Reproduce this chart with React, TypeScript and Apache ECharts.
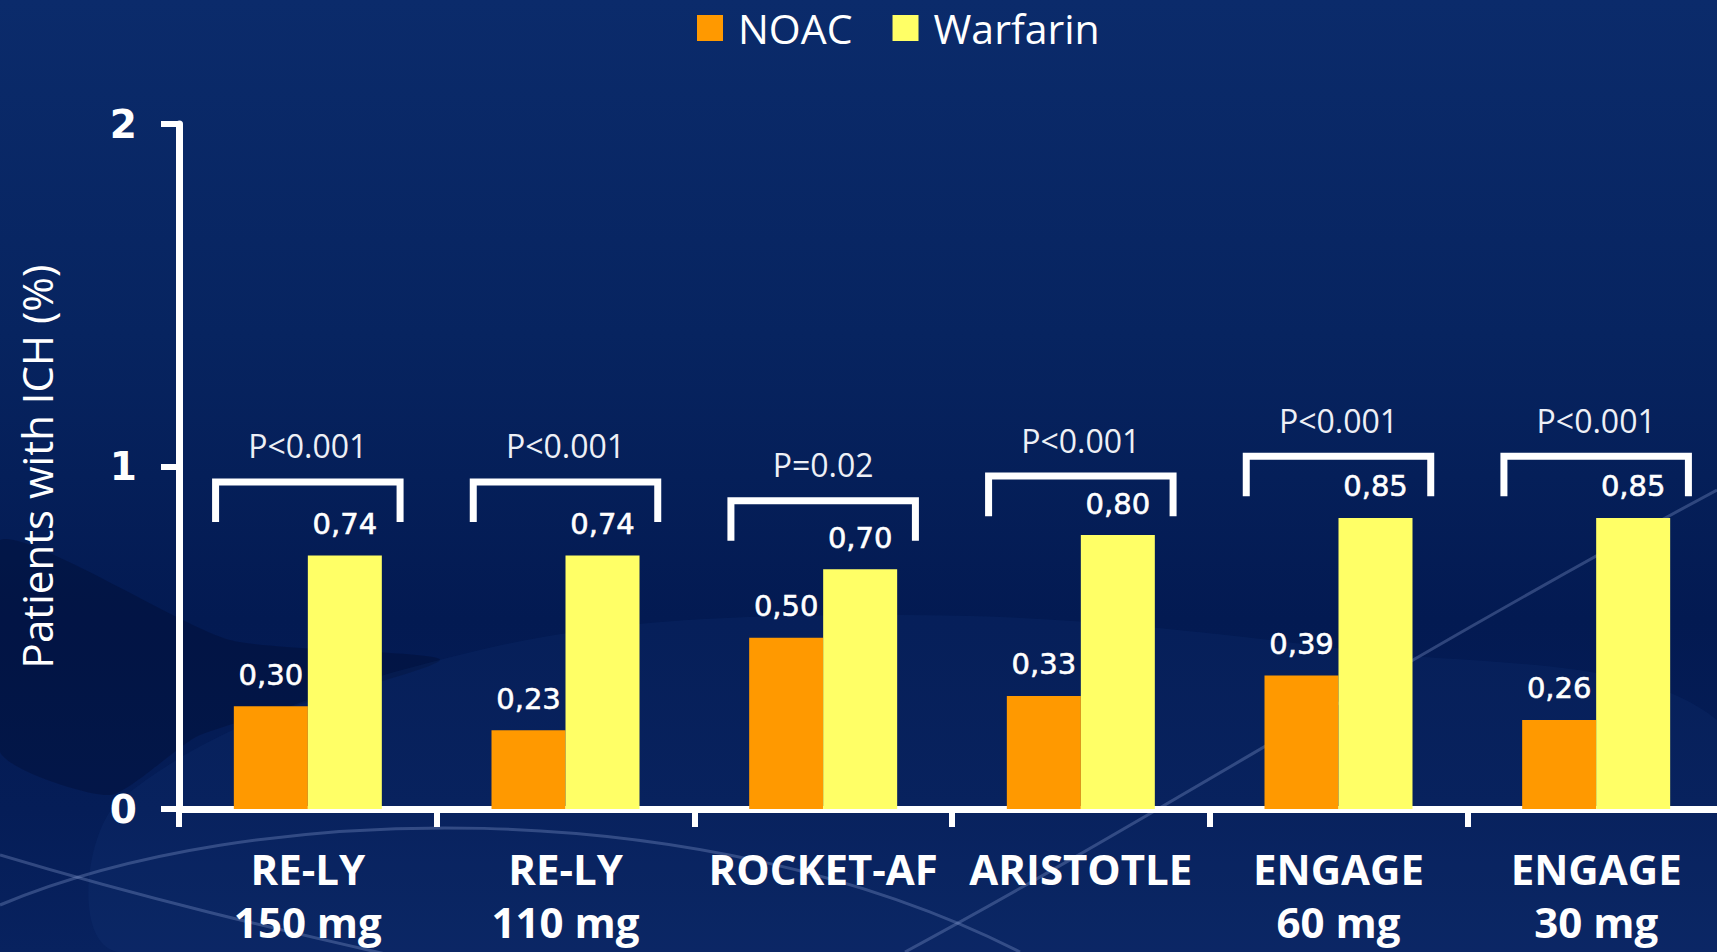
import React, { useEffect, useRef } from "react";
import * as echarts from "echarts";

// Trial groups on the x axis
const categories = [
  "RE-LY\n150 mg",
  "RE-LY\n110 mg",
  "ROCKET-AF",
  "ARISTOTLE",
  "ENGAGE\n60 mg",
  "ENGAGE\n30 mg",
];

// Patients with intracranial haemorrhage (%)
const noacValues = [0.3, 0.23, 0.5, 0.33, 0.39, 0.26];
const warfarinValues = [0.74, 0.74, 0.7, 0.8, 0.85, 0.85];

// Significance brackets: p-value text and bracket level (axis units)
const pValueLabels = ["P<0.001", "P<0.001", "P=0.02", "P<0.001", "P<0.001", "P<0.001"];
const bracketLevels = [0.955, 0.955, 0.9, 0.972, 1.03, 1.03];

const yTicks = { min: 0, max: 2, interval: 1 };

const ORANGE = "#ff9900";
const YELLOW = "#ffff66";
const WHITE = "#ffffff";

const fmtComma = (v: number) => v.toFixed(2).replace(".", ",");

export default function App() {
  const ref = useRef<HTMLDivElement>(null);

  useEffect(() => {
    if (!ref.current) return;
    const chart = echarts.init(ref.current, undefined, { renderer: "svg" });

    const valueLabel = {
      show: true,
      position: "top" as const,
      distance: 17,
      color: WHITE,
      fontFamily: "DejaVu Sans",
      fontSize: 29,
      textBorderColor: WHITE,
      textBorderWidth: 0.6,
      formatter: (p: any) => fmtComma(p.value as number),
    };

    const faintLine = { stroke: "rgba(150,170,220,0.3)", lineWidth: 3, fill: null };

    chart.setOption({
      animation: false,
      backgroundColor: new echarts.graphic.LinearGradient(0, 0, 0, 1, [
        { offset: 0, color: "#0b2b6b" },
        { offset: 0.35, color: "#072460" },
        { offset: 0.65, color: "#031a52" },
        { offset: 0.85, color: "#051d57" },
        { offset: 1, color: "#08225f" },
      ]),
      graphic: [
        {
          type: "polygon",
          z: -2,
          silent: true,
          shape: {
            points: [
              [0, 540],
              [230, 640],
              [440, 660],
              [200, 735],
              [110, 795],
              [0, 752],
            ],
            smooth: 0.2,
          },
          style: { fill: "rgba(0,6,36,0.28)" },
        },
        {
          type: "polygon",
          z: -2,
          silent: true,
          shape: {
            points: [
              [120, 800],
              [480, 650],
              [900, 615],
              [1350, 650],
              [1717, 720],
              [1717, 952],
              [120, 952],
            ],
            smooth: 0.35,
          },
          style: { fill: "rgba(30,70,150,0.12)" },
        },
        {
          type: "bezierCurve",
          z: -1,
          silent: true,
          shape: { x1: 0, y1: 905, cpx1: 250, cpy1: 800, cpx2: 700, cpy2: 790, x2: 1020, y2: 952 },
          style: faintLine,
        },
        {
          type: "bezierCurve",
          z: -1,
          silent: true,
          shape: { x1: 0, y1: 855, cpx1: 150, cpy1: 900, cpx2: 280, cpy2: 930, x2: 390, y2: 955 },
          style: faintLine,
        },
        {
          type: "bezierCurve",
          z: -1,
          silent: true,
          shape: { x1: 905, y1: 952, cpx1: 1150, cpy1: 820, cpx2: 1400, cpy2: 660, x2: 1717, y2: 490 },
          style: faintLine,
        },
      ],
      legend: {
        data: ["NOAC", "Warfarin"],
        left: 692,
        top: 0,
        icon: "rect",
        itemWidth: 26,
        itemHeight: 26,
        itemGap: 40,
        textStyle: {
          color: WHITE,
          fontFamily: "Open Sans",
          fontSize: 41,
          lineHeight: 46,
          padding: [0, 0, 0, 10],
        },
      },
      grid: {
        left: 179,
        top: 124,
        width: 1546,
        height: 685,
        containLabel: false,
        outerBoundsMode: "none",
      },
      xAxis: {
        type: "category",
        data: categories,
        axisLine: { lineStyle: { color: WHITE, width: 7 } },
        axisTick: { show: true, length: 18, lineStyle: { color: WHITE, width: 6 } },
        axisLabel: {
          color: WHITE,
          fontFamily: "Open Sans",
          fontWeight: "bold",
          fontSize: 42,
          lineHeight: 53,
          margin: 33,
          interval: 0,
        },
      },
      yAxis: {
        type: "value",
        min: yTicks.min,
        max: yTicks.max,
        interval: yTicks.interval,
        name: "Patients with ICH (%)",
        nameLocation: "middle",
        nameGap: 122,
        nameTextStyle: {
          color: WHITE,
          fontFamily: "Open Sans",
          fontSize: 42,
          lineHeight: 42,
        },
        axisLine: { show: true, lineStyle: { color: WHITE, width: 7 } },
        axisTick: { show: true, length: 18, lineStyle: { color: WHITE, width: 6 } },
        splitLine: { show: false },
        axisLabel: {
          color: WHITE,
          fontFamily: "DejaVu Sans",
          fontWeight: "bold",
          fontSize: 39,
          margin: 42,
        },
      },
      series: [
        {
          name: "NOAC",
          type: "bar",
          data: noacValues,
          barWidth: 74,
          barGap: "0%",
          itemStyle: { color: ORANGE },
          label: valueLabel,
        },
        {
          name: "Warfarin",
          type: "bar",
          data: warfarinValues,
          barWidth: 74,
          barGap: "0%",
          itemStyle: { color: YELLOW },
          label: valueLabel,
        },
        {
          type: "custom",
          silent: true,
          clip: false,
          z: 5,
          data: bracketLevels.map((lvl, i) => [i, lvl]),
          renderItem: (_params: any, api: any) => {
            const idx = api.value(0);
            const lvl = api.value(1);
            const [cx, cy] = api.coord([idx, lvl]);
            const catW = api.size([1, 0])[0];
            const legH = api.size([0, 0.117])[1];
            const hw = catW * 0.358;
            return {
              type: "group",
              children: [
                {
                  type: "polyline",
                  shape: {
                    points: [
                      [cx - hw, cy + legH],
                      [cx - hw, cy],
                      [cx + hw, cy],
                      [cx + hw, cy + legH],
                    ],
                  },
                  style: { stroke: WHITE, lineWidth: 7, fill: null, lineJoin: "miter", lineCap: "butt" },
                },
                {
                  type: "text",
                  style: {
                    text: pValueLabels[idx],
                    x: cx,
                    y: cy - 36,
                    align: "center",
                    verticalAlign: "middle",
                    fill: "#eef0f6",
                    fontFamily: "Open Sans",
                    fontSize: 32,
                  },
                },
              ],
            };
          },
        },
      ],
    });

    return () => chart.dispose();
  }, []);

  return (
    <div
      ref={ref}
      style={{ position: "fixed", left: 0, top: 0, width: 1717, height: 952 }}
    />
  );
}
